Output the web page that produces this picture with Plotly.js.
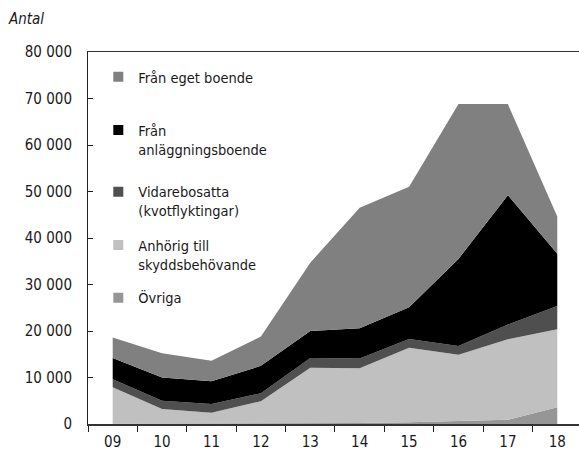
<!DOCTYPE html>
<html><head><meta charset="utf-8">
<script src="https://cdn.plot.ly/plotly-3.0.1.min.js"></script>
<style>body{margin:0;padding:0;background:#fff}#chart{width:579px;height:457px}</style>
</head><body><div id="chart"></div>
<script>
const years = ["09","10","11","12","13","14","15","16","17","18"];
const ovriga = [100,100,100,100,200,200,400,700,900,3600];
const anhorig = [7800,3100,2300,4800,11900,11800,16000,14200,17300,16800];
const vidare = [1700,1800,1900,1700,2100,2100,1900,1900,3200,5000];
const anlaggning = [4600,5000,4900,5900,5800,6500,6800,18700,27800,11200];
const eget = [4400,5200,4400,6300,14700,25900,25900,33300,19600,8000];
const names = ["Övriga","Anhörig till<br>skyddsbehövande","Vidarebosatta<br>(kvotflyktingar)","Från<br>anläggningsboende","Från eget boende"];
const colors = ["#969696","#c0c0c0","#4f4f4f","#000000","#808080"];
const series = [ovriga, anhorig, vidare, anlaggning, eget];

const FAM = '"DejaVu Sans Condensed","Liberation Sans Narrow",sans-serif';
const tickFont = {family:FAM, size:15, color:'#1a1a1a'};
const legFont = {family:FAM, size:14.5, color:'#1a1a1a'};

const traces = [];
series.forEach((s,i)=>{
  traces.push({x: years, y: s, type:'scatter', mode:'lines', stackgroup:'one',
    line:{width:0, color:colors[i]}, fillcolor:colors[i], showlegend:false, hoverinfo:'skip'});
});
const legendIds = ['legend5','legend4','legend3','legend2','legend'];
series.forEach((s,i)=>{
  traces.push({x:[null], y:[null], type:'scatter', mode:'markers', name:names[i],
    marker:{symbol:'square', size:10, color:colors[i]}, showlegend:true, legend:legendIds[i]});
});

const legY = [0.976, 0.833, 0.667, 0.524, 0.382];
function leg(y){ return {x:0.021, y:y, xanchor:'left', yanchor:'top', valign:'top',
  bgcolor:'rgba(0,0,0,0)', font:legFont, itemwidth:30}; }

const layout = {
  width:579, height:457,
  margin:{l:88, r:0, t:52, b:33},
  paper_bgcolor:'#fff', plot_bgcolor:'#fff',
  font: tickFont,
  separators: ', ',
  showlegend:true,
  legend:leg(legY[0]), legend2:leg(legY[1]), legend3:leg(legY[2]), legend4:leg(legY[3]), legend5:leg(legY[4]),
  xaxis:{type:'category', range:[-0.5, 9.44], tickson:'boundaries', ticks:'outside', ticklen:6,
    tickcolor:'#222', showline:true, linecolor:'#333', linewidth:1.5, mirror:true, showgrid:false,
    zeroline:false, tickfont:tickFont, ticklabelstandoff:3, fixedrange:true},
  yaxis:{range:[0,80000], dtick:10000, tickformat:',d', ticks:'inside', ticklen:5, tickcolor:'#222',
    showline:true, linecolor:'#222', linewidth:1, showgrid:false, zeroline:false, tickfont:tickFont,
    ticklabelstandoff:12, fixedrange:true},
  annotations:[{text:'<i>Antal</i>', xref:'paper', yref:'paper', x:-0.166, y:1.0, yshift:33,
    xanchor:'left', yanchor:'middle', showarrow:false, font:{family:FAM, size:15, color:'#1a1a1a'}}]
};
Plotly.newPlot('chart', traces, layout, {staticPlot:true});
</script></body></html>
